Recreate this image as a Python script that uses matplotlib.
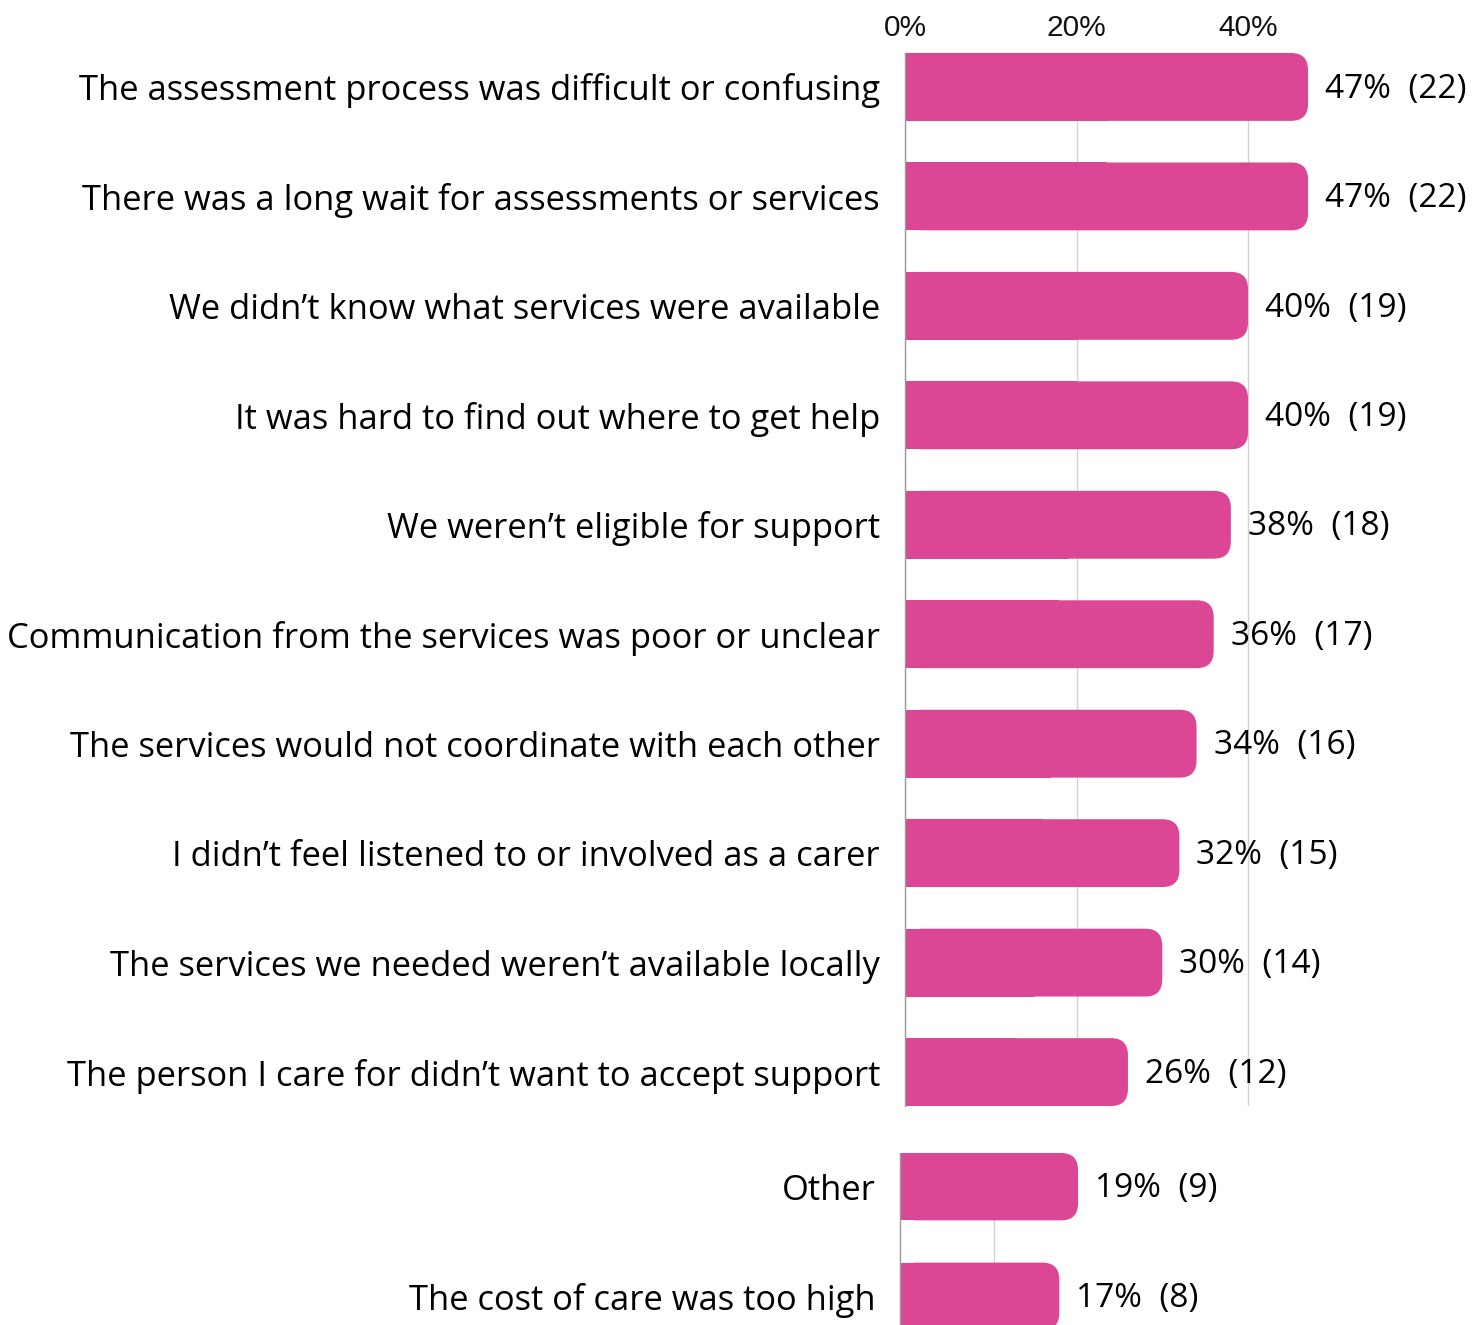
import matplotlib
matplotlib.use("Agg")
import matplotlib.pyplot as plt
from matplotlib.patches import FancyBboxPatch, Rectangle

# ---- data ----
main_labels = [
    "The assessment process was difficult or confusing",
    "There was a long wait for assessments or services",
    "We didn\u2019t know what services were available",
    "It was hard to find out where to get help",
    "We weren\u2019t eligible for support",
    "Communication from the services was poor or unclear",
    "The services would not coordinate with each other",
    "I didn\u2019t feel listened to or involved as a carer",
    "The services we needed weren\u2019t available locally",
    "The person I care for didn\u2019t want to accept support",
]
main_pct = [47, 47, 40, 40, 38, 36, 34, 32, 30, 26]
main_n = [22, 22, 19, 19, 18, 17, 16, 15, 14, 12]

extra_labels = ["Other", "The cost of care was too high"]
extra_pct = [19, 17]
extra_n = [9, 8]

main_ticks = [0, 20, 40]
main_tick_labels = ["0%", "20%", "40%"]
extra_grid = [10]

PINK = "#DB4795"
GRID = "#D3D3D3"
W, H = 1481, 1325
DPI = 100
PT = 72 / DPI  # points per pixel

LABEL_FONT = ["Open Sans", "DejaVu Sans"]
TICK_FONT = "Liberation Sans"

fig = plt.figure(figsize=(W / DPI, H / DPI), dpi=DPI)

# fit label font size so the longest label spans ~872 px
renderer = fig.canvas.get_renderer()
probe = fig.text(0, 0, main_labels[5], fontsize=10, family=LABEL_FONT)
pw = probe.get_window_extent(renderer).width
probe.remove()
LFS = 10 * 872 / pw
VFS = LFS * 0.97


def px_axes(x0, y0, x1, y1):
    return fig.add_axes([x0 / W, 1 - y1 / H, (x1 - x0) / W, (y1 - y0) / H])


def rounded_bars(ax, ypos, vals, height, ax_px_w, ax_px_h, rad_px=17):
    xl = ax.get_xlim()
    yl = ax.get_ylim()
    xs = ax_px_w / (xl[1] - xl[0])
    ys = ax_px_h / abs(yl[1] - yl[0])
    r = rad_px / xs
    asp = (rad_px / ys) / r
    bars = ax.barh(ypos, vals, height=height, color=PINK, zorder=3)
    for b in bars:
        x, y, w, h = b.get_x(), b.get_y(), b.get_width(), b.get_height()
        b.set_visible(False)
        ax.add_patch(FancyBboxPatch((x, y), w, h,
                                    boxstyle=f"round,pad=0,rounding_size={r}",
                                    mutation_aspect=asp, fc=PINK, ec="none",
                                    zorder=3))
        ax.add_patch(Rectangle((x, y), w / 2, h, fc=PINK, ec="none", zorder=3))


def style(ax):
    for s in ["top", "right", "bottom"]:
        ax.spines[s].set_visible(False)
    ax.spines["left"].set_color("#9A9A9A")
    ax.spines["left"].set_linewidth(1.0)
    ax.spines["left"].set_zorder(4)
    ax.tick_params(axis="both", length=0)
    ax.set_axisbelow(True)


# ---- main axes ----
scale = 8.575  # px per percent
ax1_x0, ax1_y0, ax1_y1 = 905, 53, 1106
ax1_x1 = 1481
ax1 = px_axes(ax1_x0, ax1_y0, ax1_x1, ax1_y1)
n = len(main_labels)
ypos = list(range(n))
bh = 0.62
ax1.set_xlim(0, (ax1_x1 - ax1_x0) / scale)
ax1.set_ylim(n - 1 + bh / 2, -bh / 2)
rounded_bars(ax1, ypos, main_pct, bh, ax1_x1 - ax1_x0, ax1_y1 - ax1_y0)
style(ax1)
ax1.xaxis.tick_top()
ax1.set_xticks(main_ticks)
ax1.set_xticklabels(main_tick_labels)
ax1.tick_params(axis="x", pad=11 * PT, labelsize=21.5,
                labelfontfamily=TICK_FONT, labelcolor="#111111")
ax1.grid(axis="x", color=GRID, linewidth=1.0)
ax1.grid(axis="y", visible=False)
ax1.set_yticks(ypos)
ax1.set_yticklabels(main_labels)
ax1.tick_params(axis="y", pad=25 * PT, labelsize=LFS,
                labelfontfamily="Open Sans")
for i, (v, c) in enumerate(zip(main_pct, main_n)):
    ax1.text(v + 17 / scale, i + 0.02, f"{v}%  ({c})", fontsize=VFS,
             family=LABEL_FONT, va="center", ha="left", clip_on=False,
             zorder=5)

# ---- extra axes ----
scale2 = 9.37
ax2_x0, ax2_y0, ax2_y1 = 900, 1153, 1330
ax2_x1 = 1481
ax2 = px_axes(ax2_x0, ax2_y0, ax2_x1, ax2_y1)
m = len(extra_labels)
ypos2 = list(range(m))
bh2 = 67 / 109
ax2.set_xlim(0, (ax2_x1 - ax2_x0) / scale2)
ax2.set_ylim(m - 1 + bh2 / 2, -bh2 / 2)
rounded_bars(ax2, ypos2, extra_pct, bh2, ax2_x1 - ax2_x0, ax2_y1 - ax2_y0)
style(ax2)
ax2.set_xticks(extra_grid)
ax2.set_xticklabels([])
ax2.grid(axis="x", color=GRID, linewidth=1.0)
ax2.grid(axis="y", visible=False)
ax2.set_yticks(ypos2)
ax2.set_yticklabels(extra_labels)
ax2.tick_params(axis="y", pad=24 * PT, labelsize=LFS,
                labelfontfamily="Open Sans")
for i, (v, c) in enumerate(zip(extra_pct, extra_n)):
    ax2.text(v + 17 / scale2, i + 0.02, f"{v}%  ({c})", fontsize=VFS,
             family=LABEL_FONT, va="center", ha="left", clip_on=False,
             zorder=5)

fig.savefig("out.png", dpi=DPI)
